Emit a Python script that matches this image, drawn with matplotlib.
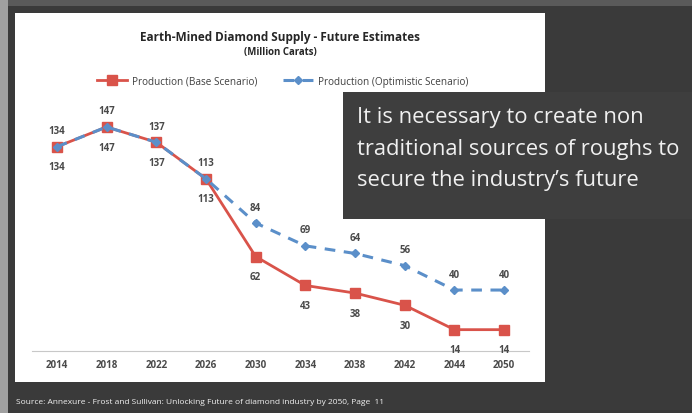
import matplotlib
matplotlib.use("Agg")
import matplotlib.pyplot as plt
from matplotlib.patches import Rectangle

years = ["2014", "2018", "2022", "2026", "2030", "2034", "2038", "2042", "2044", "2050"]
base = [134, 147, 137, 113, 62, 43, 38, 30, 14, 14]
optimistic = [134, 147, 137, 113, 84, 69, 64, 56, 40, 40]
series_names = ["Production (Base Scenario)", "Production (Optimistic Scenario)"]
title = "Earth-Mined Diamond Supply - Future Estimates"
subtitle = "(Million Carats)"
callout = "It is necessary to create non\ntraditional sources of roughs to\nsecure the industry\u2019s future"
source = "Source: Annexure - Frost and Sullivan: Unlocking Future of diamond industry by 2050, Page  11"

W, H = 692, 414
plt.rcParams['font.family'] = ['Open Sans', 'DejaVu Sans']
fig = plt.figure(figsize=(W / 100, H / 100), dpi=100)
fig.patch.set_facecolor('#3a3a3a')

def rect(x0, y0, x1, y1, color, z):
    r = Rectangle((x0 / W, 1 - y1 / H), (x1 - x0) / W, (y1 - y0) / H,
                  transform=fig.transFigure, facecolor=color, edgecolor='none', zorder=z)
    fig.add_artist(r)
    return r

# background strips and white panel
rect(0, 0, W, 7, '#5a5a5a', -3)
rect(0, 0, 8, H, '#a0a0a0', -3)
rect(15, 14, 545, 383, 'white', -2)

# axes
x0, x1 = 32, 529
ybase = 352
ppu = 1.524
ytop_val = 160
ax = fig.add_axes([x0 / W, 1 - ybase / H, (x1 - x0) / W, ytop_val * ppu / H])
ax.set_facecolor('none')
xs = list(range(len(years)))
red = '#d9534a'
blue = '#5b8fc9'
l1, = ax.plot(xs, base, color=red, lw=2.0, marker='s', ms=7, mfc=red, mec=red, zorder=3,
              label=series_names[0])
l2, = ax.plot(xs, optimistic, color=blue, lw=2.2, ls=(0, (3.5, 2.8)), marker='D', ms=3.8,
              mfc=blue, mec=blue, zorder=4, label=series_names[1])
ax.set_xlim(-0.5, len(years) - 0.5)
ax.set_ylim(0, ytop_val)
ax.set_xticks(xs)
ax.set_xticklabels(years)
ax.set_yticks([])
for s in ['left', 'right', 'top']:
    ax.spines[s].set_visible(False)
ax.spines['bottom'].set_color('#c8c8c8')
ax.spines['bottom'].set_linewidth(0.8)
ax.tick_params(axis='x', length=0, pad=5.5, labelsize=7.0, labelcolor='#4a4a4a')
for t in ax.get_xticklabels():
    t.set_fontweight('bold')

for i, v in enumerate(base):
    ax.annotate(str(v), (i, v), xytext=(0, -14.5), textcoords='offset points',
                ha='center', va='center', fontsize=7.0, color='#4a4a4a', fontweight='bold', zorder=5)
for i, v in enumerate(optimistic):
    ax.annotate(str(v), (i, v), xytext=(0, 11.5), textcoords='offset points',
                ha='center', va='center', fontsize=7.0, color='#4a4a4a', fontweight='bold', zorder=5)

# titles
fig.text(280.5 / W, 1 - 37 / H, title, ha='center', va='center', fontsize=8.5,
         fontweight='bold', color='#262626')
fig.text(280.5 / W, 1 - 52 / H, subtitle, ha='center', va='center', fontsize=6.9,
         fontweight='bold', color='#262626')

leg = fig.legend(handles=[l1, l2], loc='center', bbox_to_anchor=(282.5 / W, 1 - 82 / H),
                 ncol=2, frameon=False, fontsize=7.2, handlelength=3.0, handletextpad=0.45,
                 columnspacing=2.6)
for t in leg.get_texts():
    t.set_color('#404040')

# callout box
rect(343, 93, W, 220, '#3e3e3e', 6)
fig.text(357 / W, 1 - 149 / H, callout, ha='left', va='center', fontsize=15.8,
         color='#f0f0f0', linespacing=1.66, zorder=7)

fig.text(16 / W, 1 - 403 / H, source, ha='left', va='center', fontsize=6.0, color='#f2f2f2')

fig.savefig('out.png', dpi=100, facecolor=fig.get_facecolor())
